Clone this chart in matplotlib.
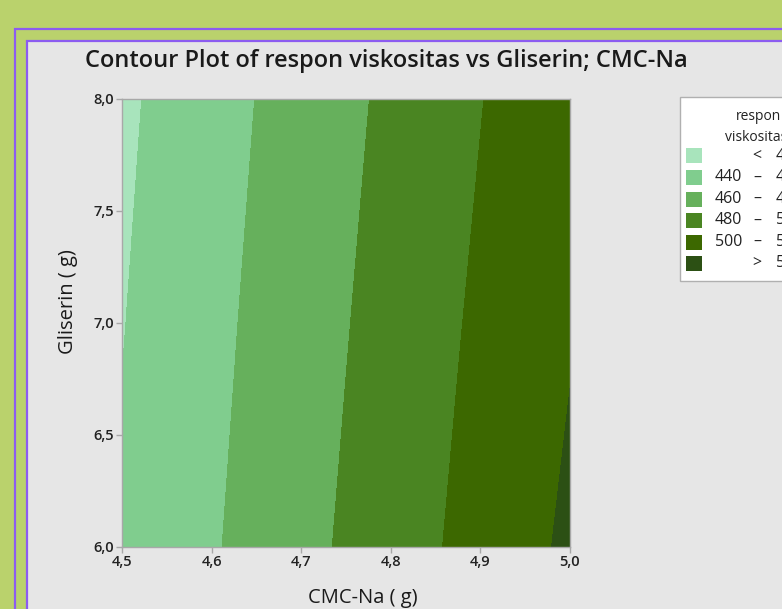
import numpy as np
import matplotlib
matplotlib.use("Agg")
import matplotlib.pyplot as plt
from matplotlib.patches import Rectangle

# ---- data ----
cmc = [4.5, 4.625, 4.75, 4.875, 5.0]          # CMC-Na (g)
gliserin = [6.0, 7.0, 8.0]                    # Gliserin (g)
resp_g6 = [442.3, 462.1, 482.5, 502.8, 523.4]
resp_g7 = [439.3, 459.3, 479.2, 499.2, 518.6]
resp_g8 = [436.5, 456.4, 475.9, 495.5, 515.0]
levels = [400, 440, 460, 480, 500, 520, 560]
level_colors = ["#a8e4bc", "#80cd8e", "#66b05c", "#4a8522", "#3c6800", "#2c5014"]
legend_low = ["", "440", "460", "480", "500", ""]
legend_sym = ["<", "–", "–", "–", "–", ">"]
legend_high = ["440", "460", "480", "500", "520", "520"]
xticks = [4.5, 4.6, 4.7, 4.8, 4.9, 5.0]
yticks = [6.0, 6.5, 7.0, 7.5, 8.0]

W, H = 782, 609
plt.rcParams['font.family'] = ['Open Sans', 'DejaVu Sans']
fig = plt.figure(figsize=(W / 100, H / 100), dpi=100)
fig.patch.set_facecolor("#bad26c")

def fx(px):
    return px / W

def fy(py):
    return 1 - py / H

purple = "#8c5cf0"
# outer frame
fig.patches.append(Rectangle((fx(15), -0.2), 2, fy(29) + 0.2, transform=fig.transFigure,
                             facecolor="#bad26c", edgecolor=purple, linewidth=1.6, zorder=-10))
# inner frame
fig.patches.append(Rectangle((fx(27), -0.2), 2, fy(41) + 0.2, transform=fig.transFigure,
                             facecolor="#e6e6e6", edgecolor=purple, linewidth=1.6, zorder=-9))

ax = fig.add_axes([fx(122), fy(547), fx(570) - fx(122), fy(99) - fy(547)])
Z = np.array([resp_g6, resp_g7, resp_g8])
ax.contourf(cmc, gliserin, Z, levels=levels, colors=level_colors)
ax.set_xlim(4.5, 5.0)
ax.set_ylim(6.0, 8.0)
ax.set_xticks(xticks)
ax.set_yticks(yticks)
ax.set_xticklabels([f"{v:.1f}".replace(".", ",") for v in xticks])
ax.set_yticklabels([f"{v:.1f}".replace(".", ",") for v in yticks])
for s in ax.spines.values():
    s.set_color("#a8a8a8")
    s.set_linewidth(1.0)
ax.tick_params(direction="out", length=4, width=1, color="#a8a8a8",
               labelsize=10.5, labelcolor="#222222", pad=2)
for lab in ax.get_xticklabels() + ax.get_yticklabels():
    lab.set_fontweight("semibold")

fig.text(fx(85), fy(61), "Contour Plot of respon viskositas vs Gliserin; CMC-Na",
         fontsize=17, fontweight="semibold", color="#1a1a1a", ha="left", va="center")
fig.text(fx(363), fy(598), "CMC-Na ( g)", fontsize=14.5, color="#1a1a1a",
         ha="center", va="center")
fig.text(fx(68), fy(302), "Gliserin ( g)", fontsize=14.5, color="#1a1a1a",
         ha="center", va="center", rotation=90)

# legend (cut off by right edge like the original)
fig.patches.append(Rectangle((fx(680), fy(281)), 1, fy(97) - fy(281), transform=fig.transFigure,
                             facecolor="white", edgecolor="#b0b0b0", linewidth=1.0, zorder=5))
fig.text(fx(736), fy(117), "respon", fontsize=10, color="#222222", ha="left", va="center", zorder=6)
fig.text(fx(725), fy(138), "viskositas", fontsize=10, color="#222222", ha="left", va="center", zorder=6)
row_y = [156, 177.5, 199, 220.5, 242, 263]
for yy, c, lo, sym, hi in zip(row_y, level_colors, legend_low, legend_sym, legend_high):
    fig.patches.append(Rectangle((fx(686), fy(yy + 7.5)), fx(16), fy(0) - fy(15),
                                 transform=fig.transFigure, facecolor=c, edgecolor="none", zorder=6))
    fig.text(fx(742), fy(yy), lo, fontsize=11.5, color="#222222", ha="right", va="center", zorder=7)
    fig.text(fx(757), fy(yy), sym, fontsize=11.5, color="#222222", ha="center", va="center", zorder=7)
    fig.text(fx(776), fy(yy), hi, fontsize=11.5, color="#222222", ha="left", va="center", zorder=7)

fig.savefig("out.png", dpi=100, facecolor=fig.get_facecolor())
